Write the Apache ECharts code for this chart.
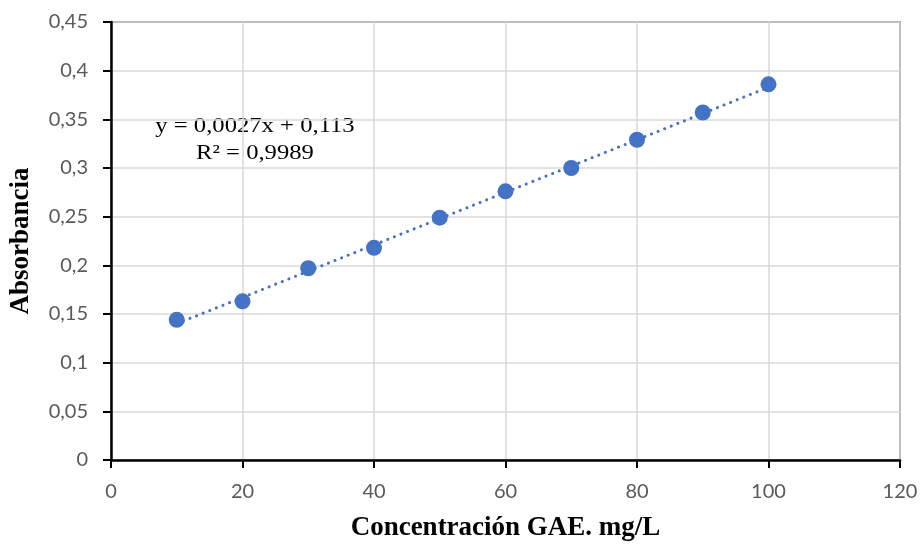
<!DOCTYPE html>
<html>
<head>
<meta charset="utf-8">
<script src="https://cdn.jsdelivr.net/npm/echarts@6/dist/echarts.min.js"></script>
<style>
  html, body { margin: 0; padding: 0; background: #fff; }
  #chart { width: 923px; height: 545px; }
</style>
</head>
<body>
<div id="chart"></div>
<script>
// concentración (mg/L) y absorbancia
var concentracion = [10, 20, 30, 40, 50, 60, 70, 80, 90, 100];
var absorbancia = [0.144, 0.163, 0.197, 0.218, 0.249, 0.276, 0.300, 0.329, 0.357, 0.386];
// extremos de la línea de tendencia
var tendenciaX = [10, 100];
var tendenciaY = [0.140, 0.383];
var ecuacion = ['y = 0,0027x + 0,113', 'R² = 0,9989'];

var azul = '#4472C4';
var coma = function (v) { return String(Number(v.toFixed(2))).replace('.', ','); };

var myChart = echarts.init(document.getElementById('chart'));
myChart.setOption({
    animation: false,
    grid: {
        left: 111, right: 23, top: 22, bottom: 85,
        outerBoundsMode: 'none',
        show: true, borderColor: '#444', borderWidth: 1.5
    },
    xAxis: {
        type: 'value',
        min: 0, max: 120, interval: 20,
        name: 'Concentración GAE. mg/L',
        nameLocation: 'middle',
        nameGap: 55,
        nameTextStyle: { fontFamily: 'Liberation Serif', fontWeight: 'bold', fontSize: 27, color: '#000' },
        axisLine: { show: true, onZero: false, lineStyle: { color: '#000', width: 2.5 } },
        axisTick: { show: true, length: 8, lineStyle: { color: '#000', width: 2 } },
        axisLabel: { margin: 22, color: '#595959', fontFamily: 'Lato', fontSize: 20 },
        splitLine: { show: true, lineStyle: { color: '#d9d9d9', width: 1.5 } }
    },
    yAxis: {
        type: 'value',
        min: 0, max: 0.45, interval: 0.05,
        name: 'Absorbancia',
        nameLocation: 'middle',
        nameGap: 76,
        nameTextStyle: { fontFamily: 'Liberation Serif', fontWeight: 'bold', fontSize: 27, color: '#000' },
        axisLine: { show: true, onZero: false, lineStyle: { color: '#000', width: 2.5 } },
        axisTick: { show: true, length: 8, lineStyle: { color: '#000', width: 2 } },
        axisLabel: { margin: 23, color: '#595959', fontFamily: 'Lato', fontSize: 20, formatter: coma },
        splitLine: { show: true, lineStyle: { color: '#d9d9d9', width: 1.5 } }
    },
    graphic: [{
        type: 'text',
        x: 255, y: 113,
        scaleX: 1.12,
        style: {
            text: ecuacion.join('\n'),
            font: '22px "Liberation Serif"',
            fill: '#000',
            align: 'center',
            lineHeight: 27
        }
    }],
    series: [{
        name: 'Tendencia',
        type: 'line',
        data: tendenciaX.map(function (x, i) { return [x, tendenciaY[i]]; }),
        showSymbol: false,
        lineStyle: { color: azul, width: 3, type: [0.1, 7], cap: 'round' },
        z: 2
    }, {
        name: 'Absorbancia',
        type: 'scatter',
        data: concentracion.map(function (x, i) { return [x, absorbancia[i]]; }),
        symbolSize: 16,
        itemStyle: { color: azul, opacity: 1 },
        z: 3
    }]
});
</script>
</body>
</html>
